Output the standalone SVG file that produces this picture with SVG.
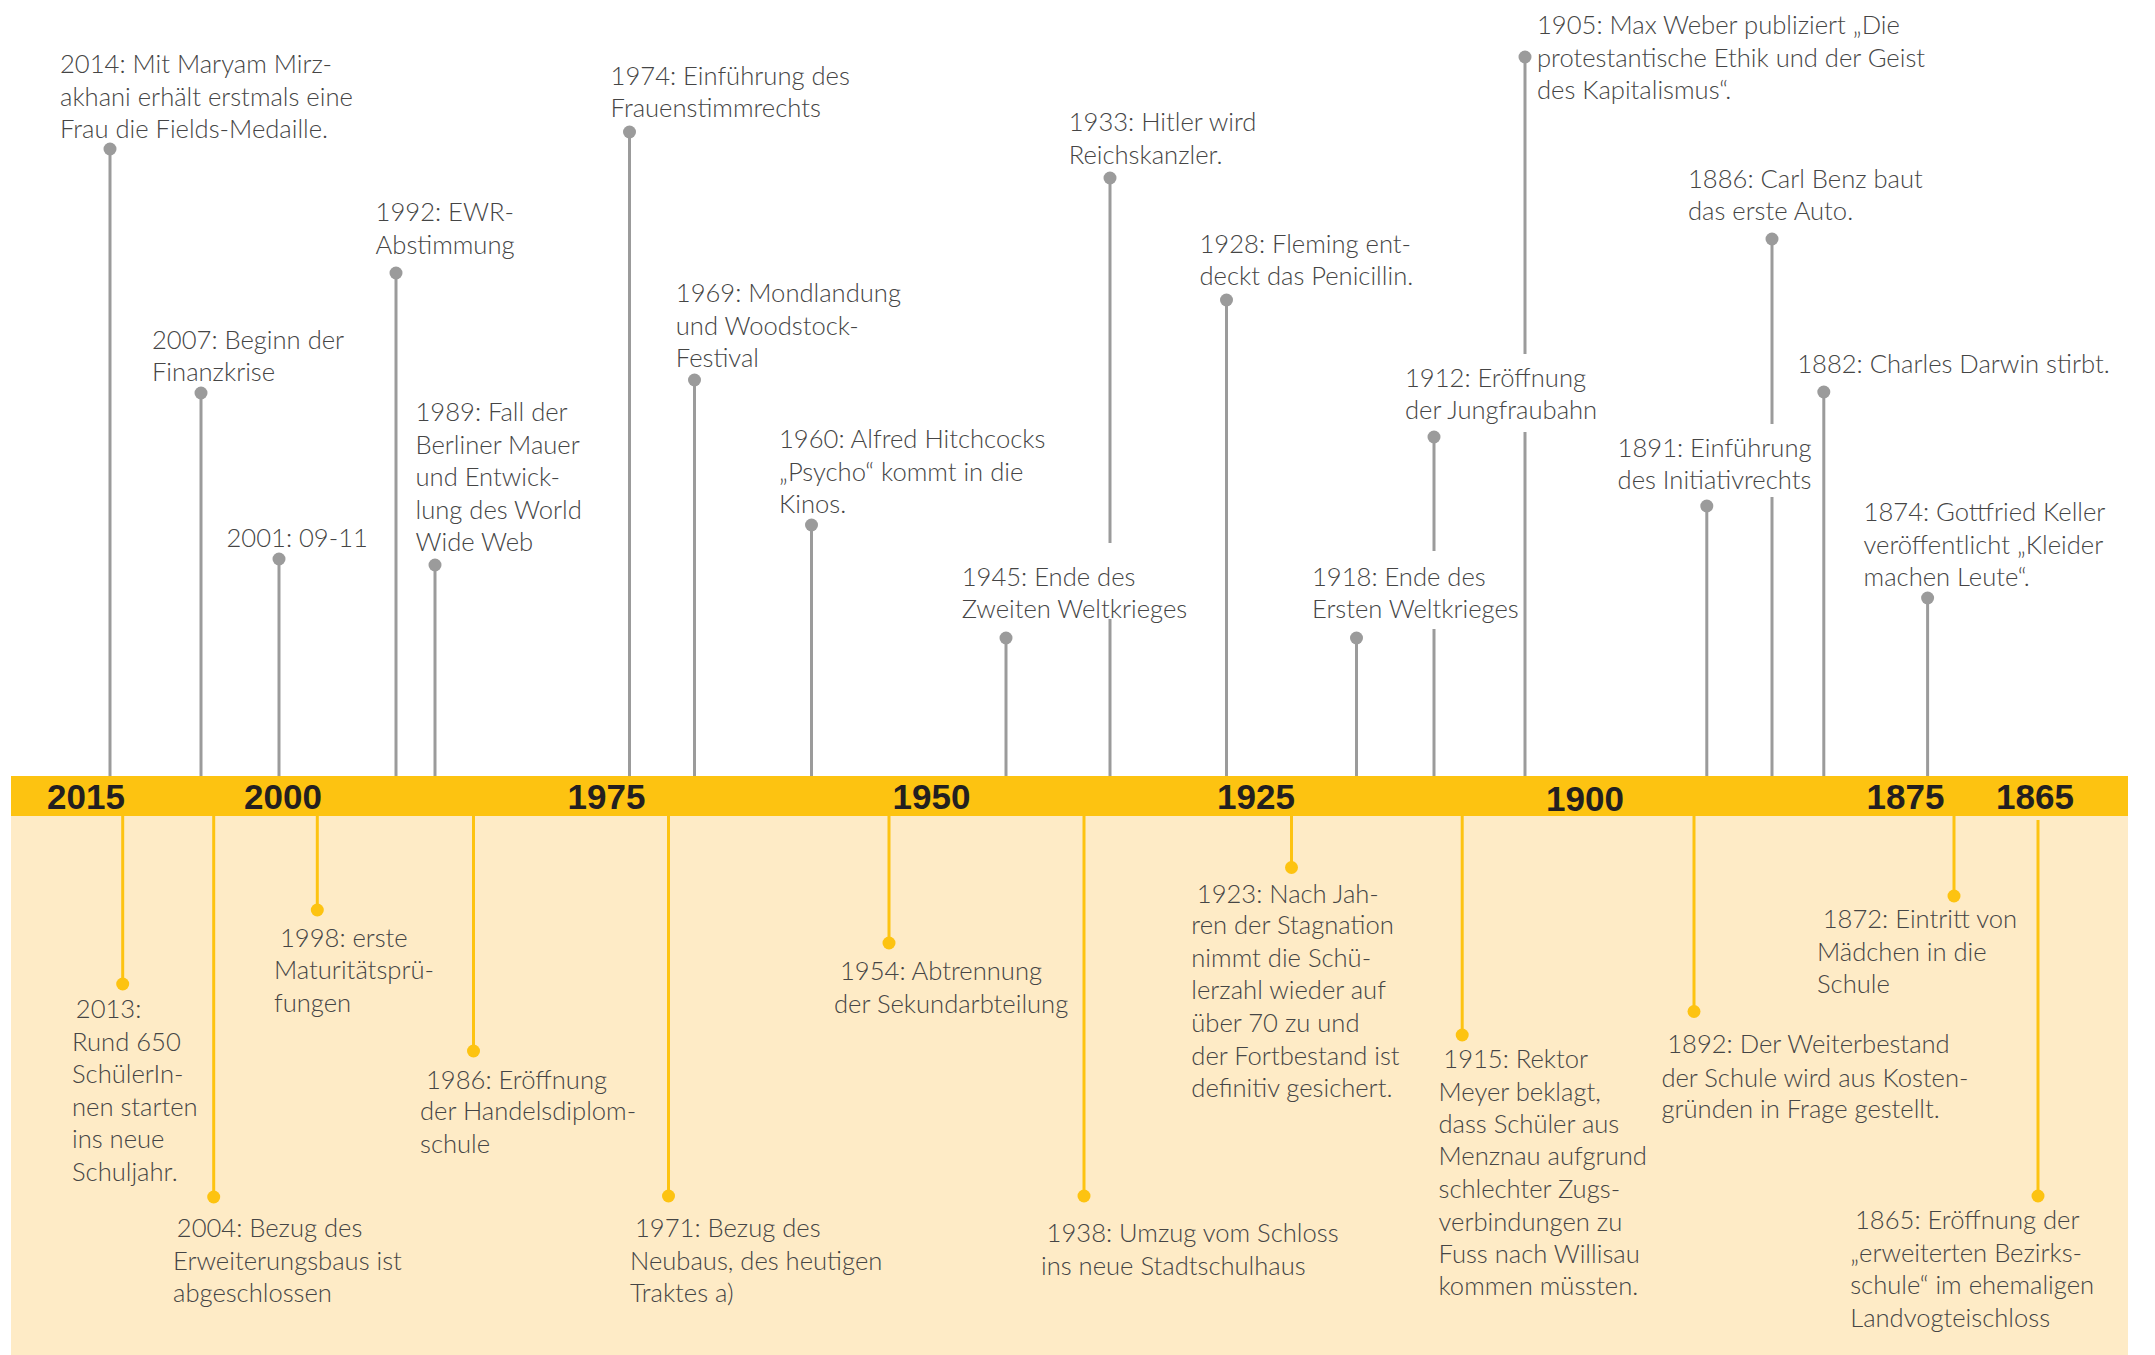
<svg xmlns="http://www.w3.org/2000/svg" width="2155" height="1355" viewBox="0 0 2155 1355">
<style>
.t{font-family:Lato,"Liberation Sans",sans-serif;font-weight:300;font-size:25.6px;fill:#454545}
.yr{font-family:"Liberation Sans",Arial,sans-serif;font-weight:bold;font-size:35px;fill:#231f20;text-anchor:middle}
.g{stroke:#9b9b9b;stroke-width:3;fill:none}
.y{stroke:#fdc311;stroke-width:3;fill:none}
.gd{fill:#9b9b9b}
.yd{fill:#fdc311}
</style>
<rect width="2155" height="1355" fill="#ffffff"/>
<rect x="11" y="816" width="2117" height="539" fill="#feebc6"/>
<rect x="11" y="776" width="2117" height="40" fill="#fdc311"/>
<g id="axis-years">
<text class="yr" x="86" y="809">2015</text>
<text class="yr" x="283" y="809">2000</text>
<text class="yr" x="606.5" y="809">1975</text>
<text class="yr" x="931.5" y="809">1950</text>
<text class="yr" x="1256" y="809">1925</text>
<text class="yr" x="1585" y="811">1900</text>
<text class="yr" x="1905.5" y="809">1875</text>
<text class="yr" x="2035" y="809">1865</text>
</g>
<g id="connectors">
<line class="g" x1="110" y1="149" x2="110" y2="776"/>
<line class="g" x1="201" y1="393" x2="201" y2="776"/>
<line class="g" x1="279" y1="559" x2="279" y2="776"/>
<line class="g" x1="396" y1="273" x2="396" y2="776"/>
<line class="g" x1="435" y1="565" x2="435" y2="776"/>
<line class="g" x1="629.5" y1="132" x2="629.5" y2="776"/>
<line class="g" x1="694.5" y1="380" x2="694.5" y2="776"/>
<line class="g" x1="811.5" y1="525" x2="811.5" y2="776"/>
<line class="g" x1="1006" y1="638" x2="1006" y2="776"/>
<line class="g" x1="1110" y1="178" x2="1110" y2="543"/>
<line class="g" x1="1110" y1="619" x2="1110" y2="776"/>
<line class="g" x1="1226.5" y1="300" x2="1226.5" y2="776"/>
<line class="g" x1="1356.5" y1="638" x2="1356.5" y2="776"/>
<line class="g" x1="1434" y1="437" x2="1434" y2="551"/>
<line class="g" x1="1434" y1="629" x2="1434" y2="776"/>
<line class="g" x1="1525" y1="57" x2="1525" y2="354"/>
<line class="g" x1="1525" y1="432" x2="1525" y2="776"/>
<line class="g" x1="1706.8" y1="506" x2="1706.8" y2="776"/>
<line class="g" x1="1772" y1="239" x2="1772" y2="424"/>
<line class="g" x1="1772" y1="497" x2="1772" y2="776"/>
<line class="g" x1="1823.8" y1="392" x2="1823.8" y2="776"/>
<line class="g" x1="1927.6" y1="598" x2="1927.6" y2="776"/>
<line class="y" x1="122.7" y1="816" x2="122.7" y2="984"/>
<line class="y" x1="213.7" y1="816" x2="213.7" y2="1197"/>
<line class="y" x1="317.3" y1="816" x2="317.3" y2="910"/>
<line class="y" x1="473.5" y1="816" x2="473.5" y2="1051"/>
<line class="y" x1="668.5" y1="816" x2="668.5" y2="1196"/>
<line class="y" x1="889" y1="816" x2="889" y2="943"/>
<line class="y" x1="1084" y1="816" x2="1084" y2="1196"/>
<line class="y" x1="1291.5" y1="816" x2="1291.5" y2="867.5"/>
<line class="y" x1="1462.2" y1="816" x2="1462.2" y2="1035"/>
<line class="y" x1="1694" y1="816" x2="1694" y2="1011.5"/>
<line class="y" x1="1954" y1="816" x2="1954" y2="896"/>
<line class="y" x1="2038" y1="820" x2="2038" y2="1196"/>
</g>
<g id="e2014"><circle class="gd" cx="110" cy="149" r="6.5"/><text class="t" x="60"><tspan x="60" y="73">2014: Mit Maryam Mirz-</tspan><tspan x="60" y="105.5">akhani erhält erstmals eine</tspan><tspan x="60" y="138">Frau die Fields-Medaille.</tspan></text></g>
<g id="e2007"><circle class="gd" cx="201" cy="393" r="6.5"/><text class="t"><tspan x="152" y="348.5">2007: Beginn der</tspan><tspan x="152" y="381">Finanzkrise</tspan></text></g>
<g id="e2001"><circle class="gd" cx="279" cy="559" r="6.5"/><text class="t" x="226.5" y="546.5">2001: 09-11</text></g>
<g id="e1992"><circle class="gd" cx="396" cy="273" r="6.5"/><text class="t"><tspan x="375.6" y="221">1992: EWR-</tspan><tspan x="375.6" y="253.5">Abstimmung</tspan></text></g>
<g id="e1989"><circle class="gd" cx="435" cy="565" r="6.5"/><text class="t"><tspan x="415.5" y="421">1989: Fall der</tspan><tspan x="415.5" y="453.5">Berliner Mauer</tspan><tspan x="415.5" y="486">und Entwick-</tspan><tspan x="415.5" y="518.5">lung des World</tspan><tspan x="415.5" y="551">Wide Web</tspan></text></g>
<g id="e1974"><circle class="gd" cx="629.5" cy="132" r="6.5"/><text class="t"><tspan x="610.6" y="85">1974: Einführung des</tspan><tspan x="610.6" y="117">Frauenstimmrechts</tspan></text></g>
<g id="e1969"><circle class="gd" cx="694.5" cy="380" r="6.5"/><text class="t"><tspan x="675.8" y="302.3">1969: Mondlandung</tspan><tspan x="675.8" y="334.8">und Woodstock-</tspan><tspan x="675.8" y="367">Festival</tspan></text></g>
<g id="e1960"><circle class="gd" cx="811.5" cy="525" r="6.5"/><text class="t"><tspan x="779" y="448">1960: Alfred Hitchcocks</tspan><tspan x="779" y="480.5">„Psycho“ kommt in die</tspan><tspan x="779" y="513">Kinos.</tspan></text></g>
<g id="e1945"><circle class="gd" cx="1006" cy="638" r="6.5"/><text class="t"><tspan x="961.7" y="585.5">1945: Ende des</tspan><tspan x="961.7" y="618">Zweiten Weltkrieges</tspan></text></g>
<g id="e1933"><circle class="gd" cx="1110" cy="178" r="6.5"/><text class="t"><tspan x="1068.7" y="131.3">1933: Hitler wird</tspan><tspan x="1068.7" y="163.8">Reichskanzler.</tspan></text></g>
<g id="e1928"><circle class="gd" cx="1226.5" cy="300" r="6.5"/><text class="t"><tspan x="1199.5" y="252.6">1928: Fleming ent-</tspan><tspan x="1199.5" y="285.1">deckt das Penicillin.</tspan></text></g>
<g id="e1918"><circle class="gd" cx="1356.5" cy="638" r="6.5"/><text class="t"><tspan x="1312" y="585.5">1918: Ende des</tspan><tspan x="1312" y="618">Ersten Weltkrieges</tspan></text></g>
<g id="e1912"><circle class="gd" cx="1434" cy="437" r="6.5"/><text class="t"><tspan x="1405" y="386.5">1912: Eröffnung</tspan><tspan x="1405" y="419">der Jungfraubahn</tspan></text></g>
<g id="e1905"><circle class="gd" cx="1525" cy="57" r="6.5"/><text class="t"><tspan x="1537" y="34.4">1905: Max Weber publiziert „Die</tspan><tspan x="1537" y="67">protestantische Ethik und der Geist</tspan><tspan x="1537" y="99">des Kapitalismus“.</tspan></text></g>
<g id="e1891"><circle class="gd" cx="1706.8" cy="506" r="6.5"/><text class="t"><tspan x="1617.6" y="457.3">1891: Einführung</tspan><tspan x="1617.6" y="488.5">des Initiativrechts</tspan></text></g>
<g id="e1886"><circle class="gd" cx="1772" cy="239" r="6.5"/><text class="t"><tspan x="1688" y="187.5">1886: Carl Benz baut</tspan><tspan x="1688" y="219.5">das erste Auto.</tspan></text></g>
<g id="e1882"><circle class="gd" cx="1823.8" cy="392" r="6.5"/><text class="t" x="1797.2" y="373">1882: Charles Darwin stirbt.</text></g>
<g id="e1874"><circle class="gd" cx="1927.6" cy="598" r="6.5"/><text class="t"><tspan x="1863.6" y="521.2">1874: Gottfried Keller</tspan><tspan x="1863.6" y="553.8">veröffentlicht „Kleider</tspan><tspan x="1863.6" y="585.5">machen Leute“.</tspan></text></g>
<g id="s2013"><circle class="yd" cx="122.7" cy="984" r="6.5"/><text class="t"><tspan x="75.8" y="1017.5">2013:</tspan><tspan x="72" y="1050.5">Rund 650</tspan><tspan x="72" y="1083">SchülerIn-</tspan><tspan x="72" y="1115.5">nen starten</tspan><tspan x="72" y="1148">ins neue</tspan><tspan x="72" y="1180.5">Schuljahr.</tspan></text></g>
<g id="s2004"><circle class="yd" cx="213.7" cy="1197" r="6.5"/><text class="t"><tspan x="176.8" y="1237">2004: Bezug des</tspan><tspan x="173" y="1270">Erweiterungsbaus ist</tspan><tspan x="173" y="1301.5">abgeschlossen</tspan></text></g>
<g id="s1998"><circle class="yd" cx="317.3" cy="910" r="6.5"/><text class="t"><tspan x="280" y="946.5">1998: erste</tspan><tspan x="274" y="979">Maturitätsprü-</tspan><tspan x="274" y="1011.5">fungen</tspan></text></g>
<g id="s1986"><circle class="yd" cx="473.5" cy="1051" r="6.5"/><text class="t"><tspan x="426" y="1088.5">1986: Eröffnung</tspan><tspan x="420" y="1120">der Handelsdiplom-</tspan><tspan x="420" y="1152.5">schule</tspan></text></g>
<g id="s1971"><circle class="yd" cx="668.5" cy="1196" r="6.5"/><text class="t"><tspan x="635" y="1237">1971: Bezug des</tspan><tspan x="630" y="1270">Neubaus, des heutigen</tspan><tspan x="630" y="1302">Traktes a)</tspan></text></g>
<g id="s1954"><circle class="yd" cx="889" cy="943" r="6.5"/><text class="t"><tspan x="840" y="980">1954: Abtrennung</tspan><tspan x="834" y="1012.5">der Sekundarbteilung</tspan></text></g>
<g id="s1938"><circle class="yd" cx="1084" cy="1196" r="6.5"/><text class="t"><tspan x="1046.6" y="1242">1938: Umzug vom Schloss</tspan><tspan x="1041" y="1274.5">ins neue Stadtschulhaus</tspan></text></g>
<g id="s1923"><circle class="yd" cx="1291.5" cy="867.5" r="6.5"/><text class="t"><tspan x="1196.8" y="902.5">1923: Nach Jah-</tspan><tspan x="1191.3" y="934">ren der Stagnation</tspan><tspan x="1191.3" y="966.5">nimmt die Schü-</tspan><tspan x="1191.3" y="999">lerzahl wieder auf</tspan><tspan x="1191.3" y="1032">über 70 zu und</tspan><tspan x="1191.3" y="1064.5">der Fortbestand ist</tspan><tspan x="1191.3" y="1097">definitiv gesichert.</tspan></text></g>
<g id="s1915"><circle class="yd" cx="1462.2" cy="1035" r="6.5"/><text class="t"><tspan x="1443.3" y="1067.5">1915: Rektor</tspan><tspan x="1438.5" y="1101">Meyer beklagt,</tspan><tspan x="1438.5" y="1132.5">dass Schüler aus</tspan><tspan x="1438.5" y="1165">Menznau aufgrund</tspan><tspan x="1438.5" y="1198">schlechter Zugs-</tspan><tspan x="1438.5" y="1230.5">verbindungen zu</tspan><tspan x="1438.5" y="1262.5">Fuss nach Willisau</tspan><tspan x="1438.5" y="1295">kommen müssten.</tspan></text></g>
<g id="s1892"><circle class="yd" cx="1694" cy="1011.5" r="6.5"/><text class="t"><tspan x="1667.2" y="1053">1892: Der Weiterbestand</tspan><tspan x="1661.4" y="1086.5">der Schule wird aus Kosten-</tspan><tspan x="1661.4" y="1118">gründen in Frage gestellt.</tspan></text></g>
<g id="s1872"><circle class="yd" cx="1954" cy="896" r="6.5"/><text class="t"><tspan x="1822.7" y="927.5">1872: Eintritt von</tspan><tspan x="1817" y="961">Mädchen in die</tspan><tspan x="1817" y="992.5">Schule</tspan></text></g>
<g id="s1865"><circle class="yd" cx="2038" cy="1196" r="6.5"/><text class="t"><tspan x="1855" y="1229">1865: Eröffnung der</tspan><tspan x="1850.2" y="1262">„erweiterten Bezirks-</tspan><tspan x="1850.2" y="1294">schule“ im ehemaligen</tspan><tspan x="1850.2" y="1326.5">Landvogteischloss</tspan></text></g>
</svg>
